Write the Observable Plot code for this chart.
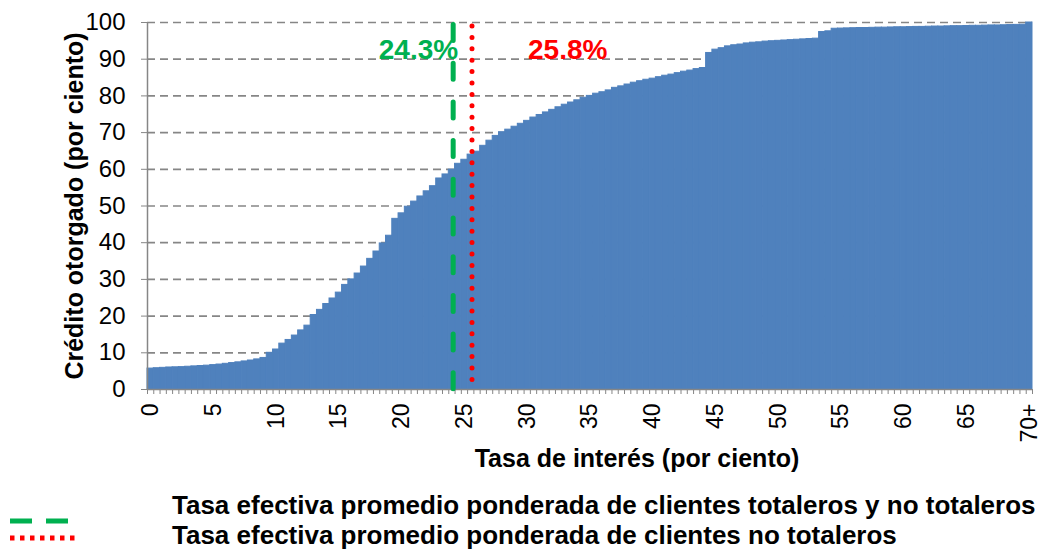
<!DOCTYPE html>
<html>
<head>
<meta charset="utf-8">
<script src="https://cdn.jsdelivr.net/npm/d3@7"></script>
<script src="https://cdn.jsdelivr.net/npm/@observablehq/plot@0.6"></script>
<style>
  body { margin: 0; background: #fff; font-family: "Liberation Sans", Arial, sans-serif; }
  svg { display: block; }
</style>
</head>
<body>
<script>
// Interest-rate buckets (per cent), every 0.5 point from 0 to 70+
const rates = d3.range(0, 70.5, 0.5);
// Cumulative credit granted (per cent) for each bucket
const credit = [
  5.7, 5.8, 5.9, 6.0, 6.05, 6.1, 6.2, 6.3, 6.4, 6.5, 6.65, 6.8, 7.0, 7.2, 7.4, 7.65, 7.9, 8.2, 8.6,
  10.0, 10.9, 12.5, 13.5, 14.7, 16.1, 17.4,
  20.3, 21.7, 23.3, 24.8, 26.4, 28.5, 30.0, 31.6, 33.5, 35.6, 37.6, 39.8, 41.9,
  46.5, 48.0, 49.8, 51.2, 52.6, 54.0, 55.4, 57.5, 58.6, 59.9, 61.5, 62.6, 64.0, 64.8,
  66.4, 67.8, 69.1, 70.1, 70.8, 71.6, 72.4, 73.2, 74.1, 74.8, 75.5, 76.2, 76.9, 77.6, 78.2, 78.8, 79.5, 80.0,
  80.6, 81.0, 81.5, 82.2, 82.6, 83.1, 83.6, 84.0, 84.4, 84.7, 85.1, 85.5, 85.8, 86.2, 86.6, 86.9, 87.3, 87.6,
  91.7, 92.6, 93.0, 93.5, 93.8, 94.0, 94.3, 94.5, 94.6, 94.8, 94.9, 95.0, 95.1, 95.2, 95.3, 95.4, 95.5, 95.6,
  97.4, 97.6,
  98.3, 98.35, 98.4, 98.45, 98.5, 98.5, 98.55, 98.6, 98.6, 98.65, 98.7, 98.7, 98.75, 98.8, 98.8, 98.85,
  98.9, 98.9, 98.95, 99.0, 99.0, 99.05, 99.1, 99.1, 99.15, 99.2, 99.2, 99.25, 99.3, 99.35, 99.4,
  100
];
// Axis ticks
const xTickValues = [0, 5, 10, 15, 20, 25, 30, 35, 40, 45, 50, 55, 60, 65, 70];
const xTickLabels = ["0", "5", "10", "15", "20", "25", "30", "35", "40", "45", "50", "55", "60", "65", "70+"];
const yTickValues = [0, 10, 20, 30, 40, 50, 60, 70, 80, 90, 100];
// Reference lines (position on the rate axis) and their labels
const refLinePos = [24.1, 25.6];
const refLabels = ["24.3%", "25.8%"];
const legendLabels = [
  "Tasa efectiva promedio ponderada de clientes totaleros y no totaleros",
  "Tasa efectiva promedio ponderada de clientes no totaleros"
];
const green = "#00b050", red = "#ff0000", blue = "#4f81bd", gray = "#868686";

const data = rates.map((r, i) => ({r, v: credit[i]}));
const half = 0.25;
const boundaries = d3.range(-half, 70.5, 0.5);

const chart = Plot.plot({
  width: 1047,
  height: 480,
  marginTop: 22,
  marginBottom: 91,
  marginLeft: 147,
  marginRight: 15,
  x: {type: "linear", domain: [-half, 70 + half], axis: null},
  y: {domain: [0, 100], axis: null},
  style: {fontFamily: "'Liberation Sans', Arial, sans-serif", background: "#fff", overflow: "visible"},
  marks: [
    Plot.ruleY(yTickValues.filter(d => d > 0), {stroke: gray, strokeWidth: 1.7, strokeDasharray: "8,5"}),
    Plot.rectY(data, {x1: d => d.r - half, x2: d => d.r + half, y: "v", fill: blue, stroke: blue, strokeWidth: 1}),
    Plot.ruleX([-half], {stroke: gray, strokeWidth: 1.5}),
    Plot.ruleY([0], {stroke: gray, strokeWidth: 1.5}),
    Plot.axisY({ticks: yTickValues, tickSize: 6, tickPadding: 16, fontSize: 24, stroke: gray, fill: "#000", label: null}),
    Plot.axisX({ticks: boundaries, tickSize: 5, tickFormat: () => "", stroke: gray, strokeWidth: 1, label: null}),
    Plot.axisX({ticks: xTickValues, tickSize: 0, tickPadding: 14, tickRotate: -90, fontSize: 23, fill: "#000",
      tickFormat: d => xTickLabels[xTickValues.indexOf(d)], label: null}),
    Plot.ruleX([refLinePos[0]], {y1: 100, y2: 0, stroke: green, strokeWidth: 5, strokeDasharray: "16,22.7", strokeLinecap: "round", insetTop: 2.5}),
    Plot.ruleX([refLinePos[1]], {y1: 100, y2: 0, stroke: red, strokeWidth: 5, strokeDasharray: "0,11.4", strokeLinecap: "round", insetTop: 4}),
    Plot.text([refLabels[0]], {x: refLinePos[0], frameAnchor: "top", dy: 36, dx: 5, lineAnchor: "bottom", textAnchor: "end",
      fill: green, fontSize: 28, fontWeight: "bold"}),
    Plot.text([refLabels[1]], {x: refLinePos[1], frameAnchor: "top", dy: 36, dx: 56, lineAnchor: "bottom", textAnchor: "start",
      fill: red, fontSize: 28, fontWeight: "bold"}),
    Plot.text(["Crédito otorgado (por ciento)"], {frameAnchor: "left", rotate: -90, dx: -82, lineAnchor: "top", textAnchor: "middle",
      fill: "#000", fontSize: 25, fontWeight: "bold"}),
    Plot.text(["Tasa de interés (por ciento)"], {frameAnchor: "bottom", dy: 77, dx: 47, lineAnchor: "bottom", textAnchor: "middle",
      fill: "#000", fontSize: 25, fontWeight: "bold"})
  ]
});
document.body.appendChild(chart);

// Legend below the chart
const leg = d3.select(document.body).append("svg").attr("width", 1047).attr("height", 70)
  .style("font-family", "'Liberation Sans', Arial, sans-serif");
leg.append("line").attr("x1", 10).attr("x2", 68).attr("y1", 41).attr("y2", 41)
  .attr("stroke", green).attr("stroke-width", 5).attr("stroke-dasharray", "22,14");
leg.append("line").attr("x1", 10).attr("x2", 76).attr("y1", 58).attr("y2", 58)
  .attr("stroke", red).attr("stroke-width", 5).attr("stroke-dasharray", "4.5,5.5");
leg.selectAll("text").data(legendLabels).join("text")
  .attr("x", 172).attr("y", (d, i) => 34 + i * 30)
  .attr("font-size", 26).attr("font-weight", "bold").attr("fill", "#000")
  .text(d => d);
</script>
</body>
</html>
